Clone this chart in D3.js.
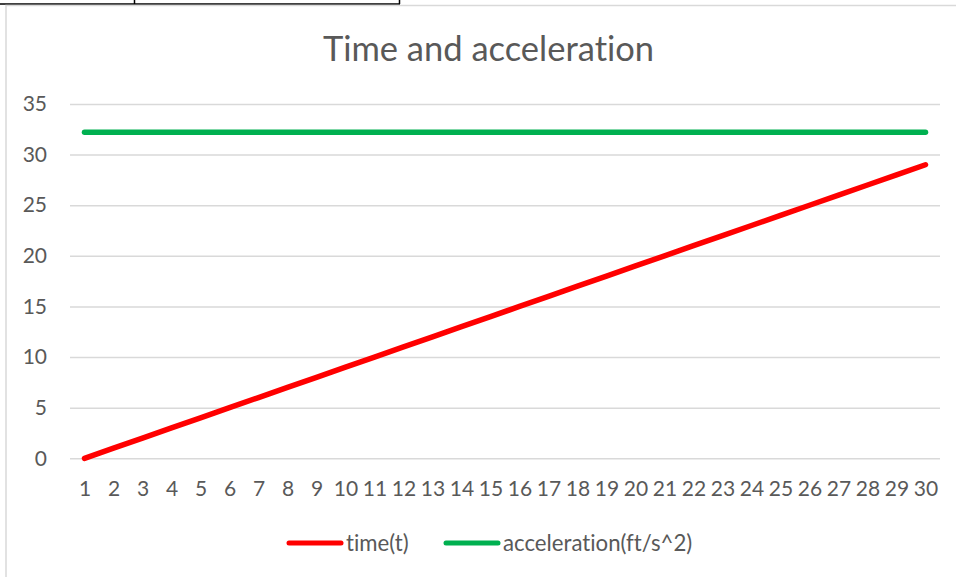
<!DOCTYPE html>
<html>
<head>
<meta charset="utf-8">
<script src="https://cdn.jsdelivr.net/npm/d3@7"></script>
<style>
  html, body { margin: 0; padding: 0; background: #fff; }
  svg { display: block; font-family: Lato, "Open Sans", sans-serif; font-variant-ligatures: none; }
</style>
</head>
<body>
<svg id="chart" width="956" height="577"></svg>
<script>
const categories = d3.range(1, 31);
const timeValues = [0,1,2,3,4,5,6,7,8,9,10,11,12,13,14,15,16,17,18,19,20,21,22,23,24,25,26,27,28,29];
const accelValues = [32.2,32.2,32.2,32.2,32.2,32.2,32.2,32.2,32.2,32.2,32.2,32.2,32.2,32.2,32.2,32.2,32.2,32.2,32.2,32.2,32.2,32.2,32.2,32.2,32.2,32.2,32.2,32.2,32.2,32.2];
const yTicks = [0,5,10,15,20,25,30,35];
const seriesNames = ["time(t)", "acceleration(ft/s^2)"];
const seriesColors = ["#FF0000", "#00B050"];
const title = "Time and acceleration";

const svg = d3.select("#chart");
const textColor = "#595959";
const labelSize = "21px";

// spreadsheet cell borders behind the chart
svg.append("line").attr("x1", 0).attr("x2", 400).attr("y1", 4).attr("y2", 4).attr("stroke", "#000").attr("stroke-width", 1.5);
svg.append("line").attr("x1", 134.5).attr("x2", 134.5).attr("y1", 0).attr("y2", 4).attr("stroke", "#000").attr("stroke-width", 1.5);
svg.append("line").attr("x1", 399.5).attr("x2", 399.5).attr("y1", 0).attr("y2", 4).attr("stroke", "#000").attr("stroke-width", 1.5);

// chart area
svg.append("rect").attr("x", 6).attr("y", 5.5).attr("width", 960).attr("height", 600)
  .attr("fill", "#fff").attr("stroke", "#D9D9D9").attr("stroke-width", 1.5);

const plotLeft = 70, plotRight = 940, plotTop = 104, plotBottom = 458.3;
const x = d3.scalePoint().domain(categories).range([plotLeft, plotRight]).padding(0.5);
const y = d3.scaleLinear().domain([0, 35]).range([plotBottom, plotTop]);

// title
svg.append("text").attr("x", 488.5).attr("y", 61).attr("text-anchor", "middle")
  .attr("fill", textColor).style("font-size", "34.5px").text(title);

// gridlines + y axis
const yAxis = svg.append("g").attr("transform", `translate(${plotLeft},0)`)
  .call(d3.axisLeft(y).tickValues(yTicks).tickSize(-(plotRight - plotLeft)).tickPadding(23));
yAxis.select(".domain").remove();
yAxis.selectAll(".tick line").attr("stroke", "#D9D9D9").attr("stroke-width", 1.5);
yAxis.selectAll(".tick text").attr("fill", textColor).style("font-size", labelSize).style("font-family", "Lato");

// x axis
const xAxis = svg.append("g").attr("transform", `translate(0,${plotBottom})`)
  .call(d3.axisBottom(x).tickSize(0).tickPadding(23));
xAxis.select(".domain").remove();
xAxis.selectAll(".tick text").attr("fill", textColor).style("font-size", labelSize).style("font-family", "Lato");

// lines
const line = d3.line().x((d, i) => x(categories[i])).y(d => y(d));
[timeValues, accelValues].forEach((vals, k) => {
  svg.append("path").datum(vals).attr("d", line).attr("fill", "none")
    .attr("stroke", seriesColors[k]).attr("stroke-width", 5.5)
    .attr("stroke-linecap", "round").attr("stroke-linejoin", "round");
});

// legend
const legendY = 543;
const legendItems = [{x: 289, tx: 346}, {x: 446, tx: 503}];
legendItems.forEach((it, k) => {
  svg.append("line").attr("x1", it.x).attr("x2", it.x + 52).attr("y1", legendY).attr("y2", legendY)
    .attr("stroke", seriesColors[k]).attr("stroke-width", 5).attr("stroke-linecap", "round");
  svg.append("text").attr("x", it.tx).attr("y", legendY).attr("dy", "0.35em")
    .attr("fill", textColor).style("font-size", "22.2px").text(seriesNames[k]);
});
</script>
</body>
</html>
